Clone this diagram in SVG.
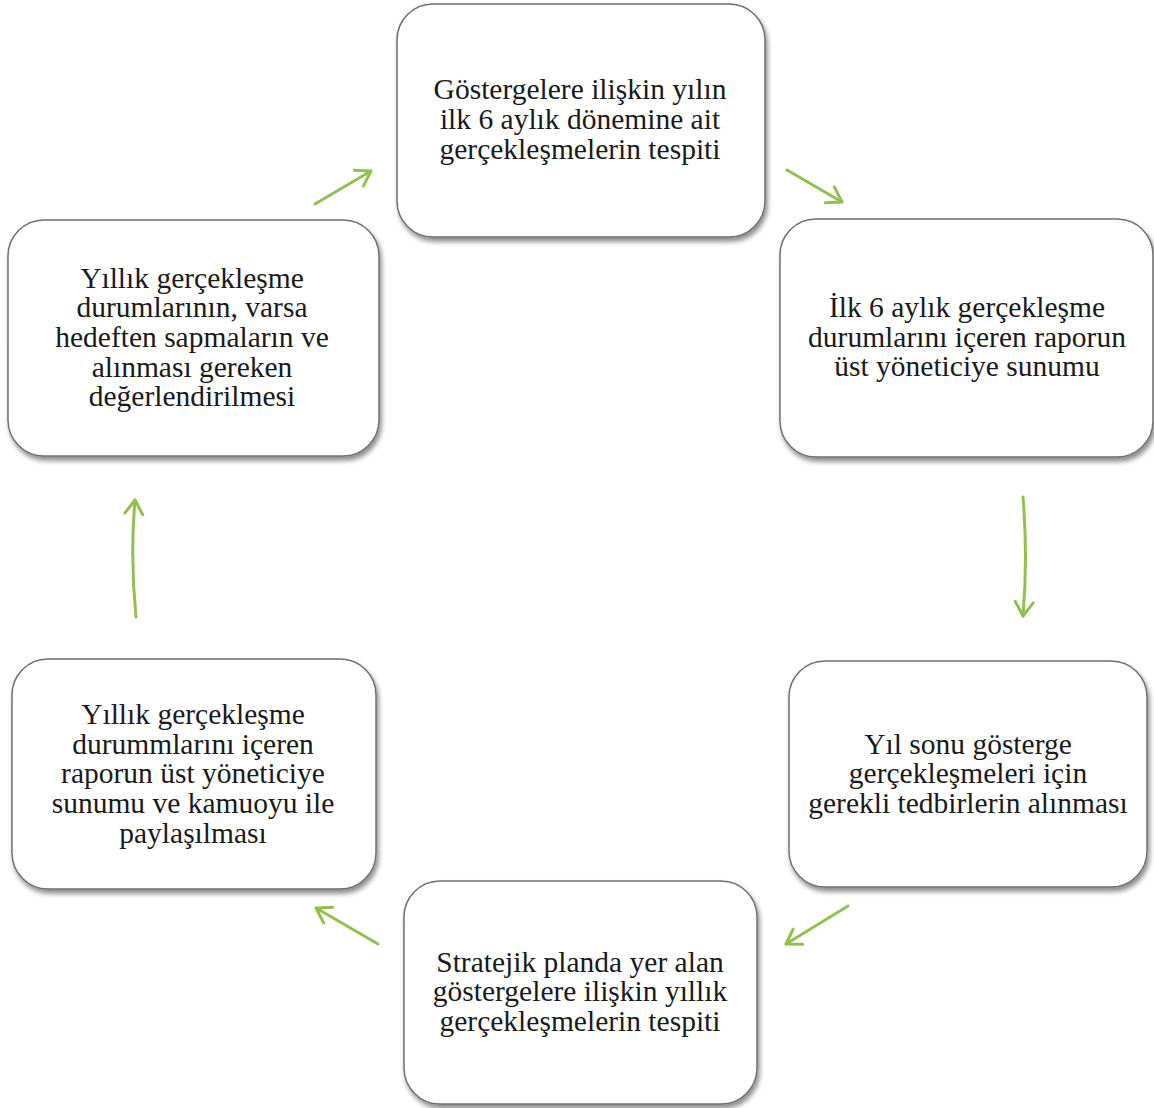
<svg xmlns="http://www.w3.org/2000/svg" width="1154" height="1108" viewBox="0 0 1154 1108">
<style>
.box{fill:#fff;stroke:#6f6f6f;stroke-width:1.5;filter:url(#sh)}
.t{font-family:"Liberation Serif","Times New Roman",serif;font-size:29.5px;fill:#1a1a1a;text-anchor:middle}
.arr{fill:none;stroke:#92c050;stroke-width:3;stroke-linecap:round;marker-end:url(#ah)}
</style>
<defs>
<filter id="sh" x="-10%" y="-10%" width="125%" height="125%">
<feDropShadow dx="2" dy="4" stdDeviation="2.5" flood-color="#000" flood-opacity="0.45"/>
</filter>
<marker id="ah" viewBox="0 0 24 24" refX="19" refY="12" markerWidth="24" markerHeight="24" markerUnits="userSpaceOnUse" orient="auto">
<path d="M5,3 L19,12 L5,21" fill="none" stroke="#92c050" stroke-width="3" stroke-linecap="round" stroke-linejoin="round"/>
</marker>
</defs>
<rect width="1154" height="1108" fill="#fff"/>
<g id="connectors">
<path class="arr" d="M315,204 L371,171"/>
<path class="arr" d="M787,170 L842,202"/>
<path class="arr" d="M1023,497 Q1028,557 1023,616"/>
<path class="arr" d="M848,906 L786,944"/>
<path class="arr" d="M378,944 L316,908"/>
<path class="arr" d="M136,617 Q130,557 135,500"/>
</g>
<g id="n1">
<rect class="box" x="397" y="4" width="368" height="233" rx="36"/>
<text class="t" x="580" y="99">Göstergelere ilişkin yılın</text>
<text class="t" x="580" y="129">ilk 6 aylık dönemine ait</text>
<text class="t" x="580" y="159">gerçekleşmelerin tespiti</text>
</g>
<g id="n2">
<rect class="box" x="780" y="219" width="373" height="238" rx="36"/>
<text class="t" x="967" y="317">İlk 6 aylık gerçekleşme</text>
<text class="t" x="967" y="347">durumlarını içeren raporun</text>
<text class="t" x="967" y="376">üst yöneticiye sunumu</text>
</g>
<g id="n3">
<rect class="box" x="789" y="661" width="358" height="226" rx="36"/>
<text class="t" x="968" y="754">Yıl sonu gösterge</text>
<text class="t" x="968" y="783">gerçekleşmeleri için</text>
<text class="t" x="968" y="813">gerekli tedbirlerin alınması</text>
</g>
<g id="n4">
<rect class="box" x="404" y="881" width="353" height="223" rx="36"/>
<text class="t" x="580" y="972">Stratejik planda yer alan</text>
<text class="t" x="580" y="1001">göstergelere ilişkin yıllık</text>
<text class="t" x="580" y="1031">gerçekleşmelerin tespiti</text>
</g>
<g id="n5">
<rect class="box" x="12" y="659" width="364" height="230" rx="36"/>
<text class="t" x="193" y="724">Yıllık gerçekleşme</text>
<text class="t" x="193" y="754">durummlarını içeren</text>
<text class="t" x="193" y="783">raporun üst yöneticiye</text>
<text class="t" x="193" y="813">sunumu ve kamuoyu ile</text>
<text class="t" x="193" y="843">paylaşılması</text>
</g>
<g id="n6">
<rect class="box" x="8" y="220" width="371" height="236" rx="36"/>
<text class="t" x="192" y="288">Yıllık gerçekleşme</text>
<text class="t" x="192" y="317">durumlarının, varsa</text>
<text class="t" x="192" y="347">hedeften sapmaların ve</text>
<text class="t" x="192" y="377">alınması gereken</text>
<text class="t" x="192" y="406">değerlendirilmesi</text>
</g>
</svg>
